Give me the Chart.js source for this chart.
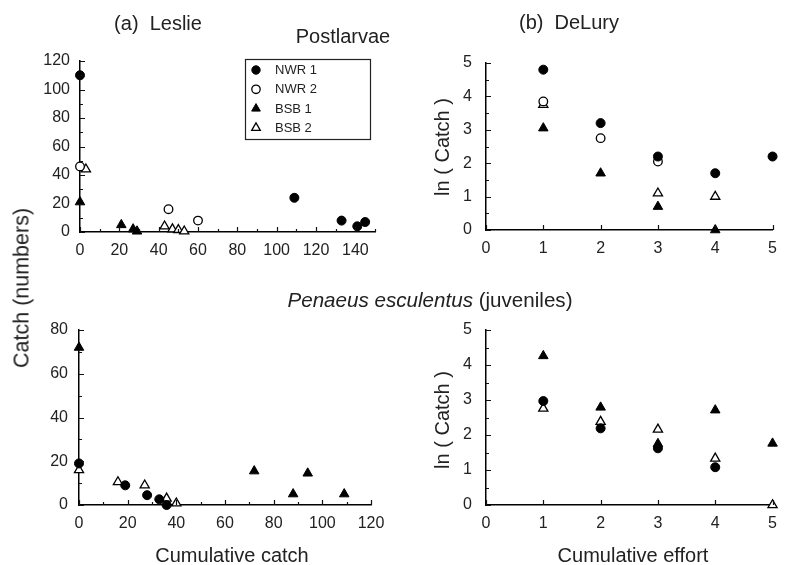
<!DOCTYPE html>
<html>
<head>
<meta charset="utf-8">
<script src="https://cdn.jsdelivr.net/npm/chart.js@4.4.1/dist/chart.umd.min.js"></script>
<style>
body{margin:0;background:#fff;width:786px;height:565px;position:relative;overflow:hidden;font-family:"Liberation Sans",Arial,sans-serif;color:#222}
canvas{position:absolute}
.t{position:absolute;font-size:20px;white-space:nowrap;transform:translate(-50%,-50%)}
.v{transform:translate(-50%,-50%) rotate(-90deg)}
</style>
</head>
<body>
<canvas id="tl" width="400" height="275" style="left:0;top:0"></canvas>
<canvas id="tr" width="386" height="275" style="left:400px;top:0"></canvas>
<canvas id="bl" width="400" height="290" style="left:0;top:275px"></canvas>
<canvas id="br" width="386" height="290" style="left:400px;top:275px"></canvas>

<div class="t" style="left:158px;top:23px">(a)&nbsp; Leslie</div>
<div class="t" style="left:569px;top:22px">(b)&nbsp; DeLury</div>
<div class="t" style="left:343px;top:36px">Postlarvae</div>
<div class="t" style="left:430px;top:300px;font-size:20.6px"><i>Penaeus esculentus</i> (juveniles)</div>
<div class="t v" style="left:22px;top:288px;font-size:21.5px">Catch (numbers)</div>
<div class="t v" style="left:442px;top:147px">ln ( Catch )</div>
<div class="t v" style="left:442px;top:420px">ln ( Catch )</div>
<div class="t" style="left:232px;top:555px">Cumulative catch</div>
<div class="t" style="left:633px;top:555px">Cumulative effort</div>

<script>
// series names
const seriesNames = ["NWR 1", "NWR 2", "BSB 1", "BSB 2"]

// postlarvae, Leslie (cumulative catch vs catch)
const postLesNwr1X = [0, 109, 133, 141, 145]
const postLesNwr1Y = [110, 24, 8, 4, 7]
const postLesNwr2X = [0, 45, 60]
const postLesNwr2Y = [46, 16, 8]
const postLesBsb1X = [0, 21, 27, 29]
const postLesBsb1Y = [21, 5, 2, 0.5]
const postLesBsb2X = [3, 43, 47, 50, 53]
const postLesBsb2Y = [44, 4, 2, 1.5, 0.5]

// postlarvae, DeLury (cumulative effort vs ln catch)
const postDelNwr1X = [1, 2, 3, 4, 5]
const postDelNwr1Y = [4.8, 3.2, 2.2, 1.7, 2.2]
const postDelNwr2X = [1, 2, 3]
const postDelNwr2Y = [3.85, 2.75, 2.05]
const postDelBsb1X = [1, 2, 3, 4]
const postDelBsb1Y = [3.05, 1.7, 0.7, 0]
const postDelBsb2X = [1, 3, 4]
const postDelBsb2Y = [3.75, 1.1, 1.0]

// juveniles, Leslie
const juvLesNwr1X = [0, 19, 28, 33, 36]
const juvLesNwr1Y = [19, 9, 4.5, 2.6, 0]
const juvLesBsb1X = [0, 72, 88, 94, 109]
const juvLesBsb1Y = [72, 15.5, 5, 14.5, 5]
const juvLesBsb2X = [0, 16, 27, 36, 40]
const juvLesBsb2Y = [16, 10.5, 9, 3, 0.8]

// juveniles, DeLury
const juvDelNwr1X = [1, 2, 3, 4]
const juvDelNwr1Y = [2.97, 2.19, 1.62, 1.08]
const juvDelBsb1X = [1, 2, 3, 4, 5]
const juvDelBsb1Y = [4.26, 2.79, 1.75, 2.71, 1.76]
const juvDelBsb2X = [1, 2, 3, 4, 5]
const juvDelBsb2Y = [2.76, 2.38, 2.16, 1.33, 0]

const fontFam = '"Liberation Sans", Arial, sans-serif'

const styles = {
    "NWR 1": {pointStyle: "circle", pointRadius: 4.5, backgroundColor: "#000", borderColor: "#000", borderWidth: 1},
    "NWR 2": {pointStyle: "circle", pointRadius: 4.3, backgroundColor: "#fff", borderColor: "#000", borderWidth: 1.3},
    "BSB 1": {pointStyle: "triangle", pointRadius: 5.5, backgroundColor: "#000", borderColor: "#000", borderWidth: 1},
    "BSB 2": {pointStyle: "triangle", pointRadius: 5.3, backgroundColor: "#fff", borderColor: "#000", borderWidth: 1.3}
}

function pts(xs, ys) {
    return xs.map((x, i) => ({x: x, y: ys[i]}))
}

function ds(name, xs, ys) {
    return Object.assign({label: name, data: pts(xs, ys), clip: false, pointHoverRadius: 5}, styles[name])
}

// short tick marks pointing into the plot, longer where there is a label
const innerTicks = {
    id: "innerTicks",
    afterDraw(chart) {
        const ctx = chart.ctx
        const a = chart.chartArea
        const xs = chart.scales.x, ys = chart.scales.y
        ctx.save()
        ctx.strokeStyle = "#111"
        ctx.lineWidth = 1.2
        ctx.beginPath()
        xs.ticks.forEach(t => {
            const p = Math.round(xs.getPixelForValue(t.value)) + 0.5
            const len = t.label !== "" ? 5 : 3
            ctx.moveTo(p, a.bottom)
            ctx.lineTo(p, a.bottom - len)
        })
        ys.ticks.forEach(t => {
            const p = Math.round(ys.getPixelForValue(t.value)) + 0.5
            const len = t.label !== "" ? 5 : 3
            ctx.moveTo(a.left, p)
            ctx.lineTo(a.left + len, p)
        })
        ctx.stroke()
        ctx.restore()
    }
}

// boxed legend inside the first panel
const boxLegend = {
    id: "boxLegend",
    afterDraw(chart) {
        const ctx = chart.ctx
        ctx.save()
        ctx.strokeStyle = "#222"
        ctx.lineWidth = 1.2
        ctx.strokeRect(245.5, 59.5, 125, 80)
        ctx.font = "13px " + fontFam
        ctx.textBaseline = "middle"
        seriesNames.forEach((name, i) => {
            const s = styles[name]
            const x = 256, y = 70 + i * 19.3
            ctx.fillStyle = s.backgroundColor
            ctx.strokeStyle = s.borderColor
            ctx.lineWidth = s.borderWidth
            ctx.beginPath()
            if (s.pointStyle === "circle") {
                ctx.arc(x, y, 4.2, 0, Math.PI * 2)
            } else {
                const r = 5
                ctx.moveTo(x, y - r)
                ctx.lineTo(x + r * 0.866, y + r * 0.5)
                ctx.lineTo(x - r * 0.866, y + r * 0.5)
                ctx.closePath()
            }
            ctx.fill()
            ctx.stroke()
            ctx.fillStyle = "#222"
            ctx.fillText(name, 275, y + 0.5)
        })
        ctx.restore()
    }
}

function axis(min, max, step, every, size, pad, isY) {
    return {
        type: "linear",
        min: min,
        max: max,
        grid: {display: false, drawTicks: false},
        border: {display: true, color: "#000", width: 1.5},
        ticks: {
            stepSize: step,
            autoSkip: false,
            maxRotation: 0,
            padding: pad,
            color: "#222",
            font: {family: fontFam, size: 16},
            callback: v => (Math.abs(v / every - Math.round(v / every)) < 1e-6 ? v : "")
        },
        afterFit: s => { if (isY) s.width = size; else s.height = size }
    }
}

function makeChart(id, datasets, xs, ys, padding, extra) {
    return new Chart(document.querySelector(id).getContext("2d"), {
        type: "scatter",
        data: {datasets: datasets},
        options: {
            responsive: false,
            animation: false,
            layout: {padding: padding},
            plugins: {legend: {display: false}, tooltip: {enabled: false}},
            scales: {x: xs, y: ys}
        },
        plugins: [innerTicks].concat(extra || [])
    })
}

let chartOne = makeChart("#tl", [
    ds("NWR 1", postLesNwr1X, postLesNwr1Y),
    ds("NWR 2", postLesNwr2X, postLesNwr2Y),
    ds("BSB 1", postLesBsb1X, postLesBsb1Y),
    ds("BSB 2", postLesBsb2X, postLesBsb2Y)
], axis(0, 150, 10, 20, 43, 9, false), axis(0, 120, 10, 20, 80, 10, true),
    {left: 0, right: 25, top: 61, bottom: 0}, [boxLegend])

let chartTwo = makeChart("#tr", [
    ds("NWR 1", postDelNwr1X, postDelNwr1Y),
    ds("NWR 2", postDelNwr2X, postDelNwr2Y),
    ds("BSB 1", postDelBsb1X, postDelBsb1Y),
    ds("BSB 2", postDelBsb2X, postDelBsb2Y)
], axis(0, 5, 1, 1, 45, 9, false), axis(0, 5, 0.5, 1, 86, 14, true),
    {left: 0, right: 8, top: 63, bottom: 0})

let chartThree = makeChart("#bl", [
    ds("NWR 1", juvLesNwr1X, juvLesNwr1Y),
    ds("BSB 1", juvLesBsb1X, juvLesBsb1Y),
    ds("BSB 2", juvLesBsb2X, juvLesBsb2Y)
], axis(0, 120, 10, 20, 60, 9, false), axis(0, 80, 10, 20, 79, 11, true),
    {left: 0, right: 29, top: 55, bottom: 0})

let chartFour = makeChart("#br", [
    ds("NWR 1", juvDelNwr1X, juvDelNwr1Y),
    ds("BSB 1", juvDelBsb1X, juvDelBsb1Y),
    ds("BSB 2", juvDelBsb2X, juvDelBsb2Y)
], axis(0, 5, 1, 1, 60, 9, false), axis(0, 5, 0.5, 1, 86, 14, true),
    {left: 0, right: 8, top: 55, bottom: 0})
</script>
</body>
</html>
